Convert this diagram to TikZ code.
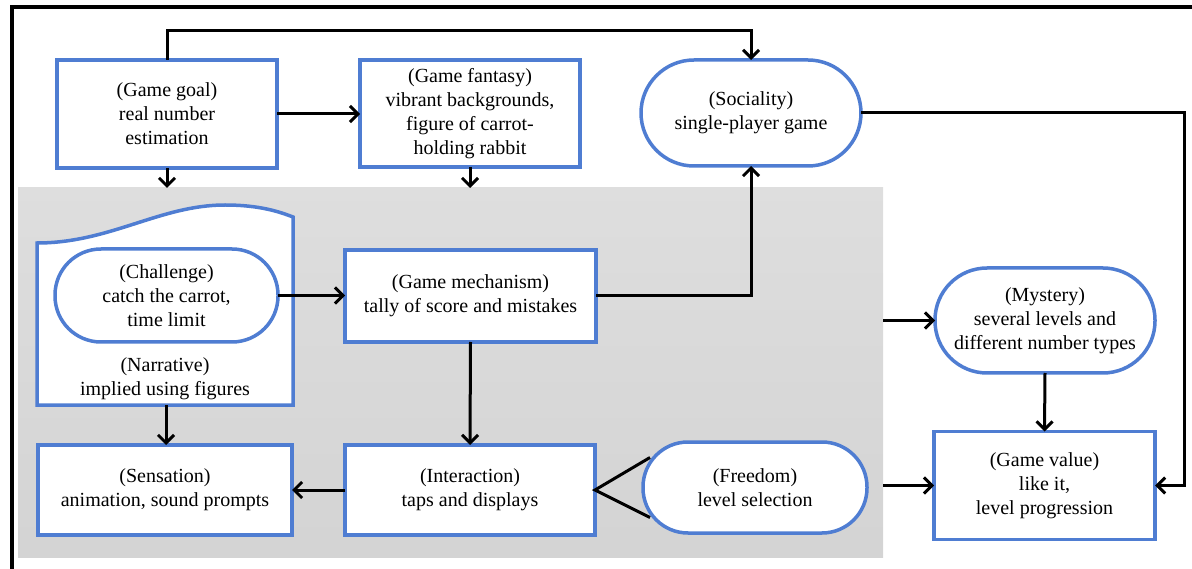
\documentclass[tikz,border=0pt]{standalone}
\usepackage{fontspec}
\setmainfont{Liberation Serif}
\usetikzlibrary{arrows.meta,calc}
\definecolor{bx}{HTML}{4F7DD2}
\begin{document}
\begin{tikzpicture}[x=1pt,y=-1pt,
  box/.style={draw=bx, line width=3.5pt, fill=white, align=center, inner sep=0pt, outer sep=0pt,
    font=\fontsize{20}{24}\selectfont},
  stad/.style={box, rounded corners=#1},
  conn/.style={line width=3pt, -{Straight Barb[length=8pt,width=16pt]}},
  plain/.style={line width=3pt},
  frame/.style={line width=4.5pt}]
\useasboundingbox (0,0) rectangle (1192,569);
% frame
\draw[frame] (12,569) -- (12,7) -- (1192,7);
% gray core region
\node[inner sep=0pt, outer sep=0pt, minimum width=865pt, minimum height=369pt,
  top color=black!13, bottom color=black!17] (core) at (450.5,372.5) {};
% nodes
\node[box, minimum width=220pt, minimum height=108pt] (gamegoal) at (167,114) {(Game goal)\\real number\\estimation};
\node[box, minimum width=220pt, minimum height=107pt] (fantasy) at (470,113.5) {(Game fantasy)\\vibrant backgrounds,\\figure of carrot-\\holding rabbit};
\node[stad=53pt, minimum width=220pt, minimum height=106pt] (sociality) at (751,113) {(Sociality)\\single-player game};
% narrative shape
\draw[draw=bx, line width=3.5pt, fill=white] (37,405) -- (37,243) .. controls (110,243) and (160,205) .. (225,205) .. controls (260,205) and (280,212) .. (293,217) -- (293,405) -- cycle;
\coordinate (narrbot) at (166,405);
\node[align=center, inner sep=0pt, font=\fontsize{20}{24}\selectfont] (narrative) at (165,379) {(Narrative)\\implied using figures};
\node[stad=46pt, minimum width=223pt, minimum height=93pt] (challenge) at (166.5,295.5) {(Challenge)\\catch the carrot,\\time limit};
\node[box, minimum width=251pt, minimum height=92pt] (mechanism) at (470.5,296) {(Game mechanism)\\tally of score and mistakes};
\node[stad=52pt, minimum width=220pt, minimum height=105pt] (mystery) at (1045,320.5) {(Mystery)\\several levels and\\different number types};
\node[box, minimum width=254pt, minimum height=90pt] (sensation) at (165,490) {(Sensation)\\animation, sound prompts};
\node[box, minimum width=250pt, minimum height=90pt] (interaction) at (470,490) {(Interaction)\\taps and displays};
\node[stad=45pt, minimum width=224pt, minimum height=91pt] (freedom) at (755,487.5) {(Freedom)\\level selection};
\node[box, minimum width=221pt, minimum height=108pt] (gamevalue) at (1044.5,485.5) {(Game value)\\like it,\\level progression};
% connectors
\draw[conn] (gamegoal.north) -- ++(0,-29) -| (sociality.north);
\draw[conn] (gamegoal.east) -- (gamegoal.east -| fantasy.west);
\draw[conn] (gamegoal.south) -- (gamegoal.south |- core.north);
\draw[conn] (fantasy.south) -- (fantasy.south |- core.north);
\draw[conn] (sociality.east) -- ++(323,0) |- (gamevalue.east);
\draw[conn] (challenge.east) -- (challenge.east -| mechanism.west);
\draw[conn] (mechanism.east) -| (sociality.south);
\draw[conn] (mechanism.south) -- (interaction.north);
\draw[conn] (interaction.west) -- (interaction.west -| sensation.east);
\draw[conn] (narrbot) -- (narrbot |- sensation.north);
\draw[plain] ($(freedom.west)+(7,-30)$) -- (interaction.east) -- ($(freedom.west)+(7,30)$);
\draw[conn] (core.east |- mystery.west) -- (mystery.west);
\draw[conn] (core.east |- gamevalue.west) -- (gamevalue.west);
\draw[conn] (mystery.south) -- (gamevalue.north);
\end{tikzpicture}
\end{document}
